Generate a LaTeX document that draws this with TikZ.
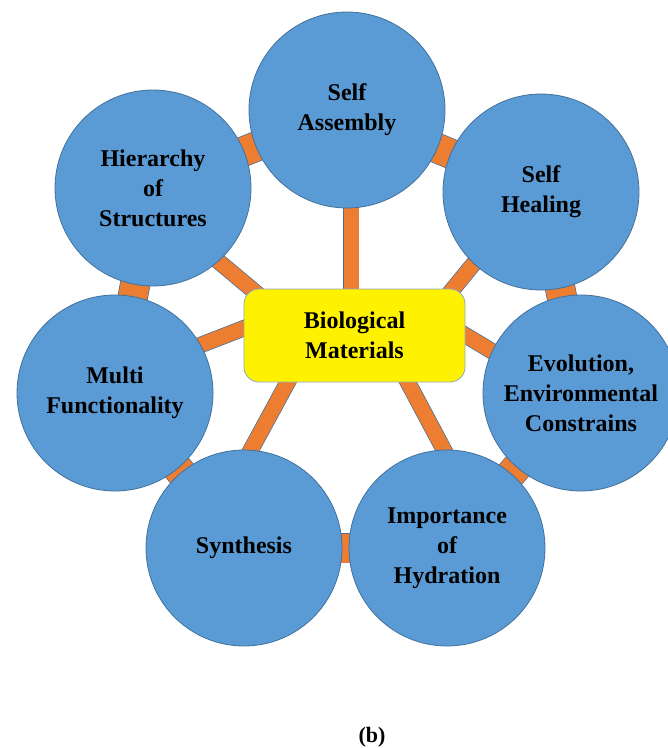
\documentclass[tikz,border=0pt]{standalone}
\usepackage{fontspec}
\setmainfont{Liberation Serif}
\definecolor{topicfill}{HTML}{5B9BD5}
\definecolor{topicedge}{HTML}{41719C}
\definecolor{linkfill}{HTML}{ED7D31}
\definecolor{hubedge}{HTML}{8EA9C1}
\begin{document}
\begin{tikzpicture}[x=1pt,y=-1pt,
  topic/.style={circle, draw=topicedge, line width=0.8pt, fill=topicfill,
    minimum size=196pt, inner sep=0pt, align=center,
    font=\bfseries\fontsize{24}{30}\selectfont},
  hub/.style={rectangle, rounded corners=15pt, draw=hubedge, line width=0.8pt,
    fill=yellow, minimum width=221pt, minimum height=93pt, align=center,
    font=\bfseries\fontsize{24}{30}\selectfont},
  ringbar/.style={draw=topicedge, line width=0.7pt, double=linkfill, double distance=29pt},
  spokebar/.style={draw=topicedge, line width=0.7pt, double=linkfill, double distance=15pt},
  caption/.style={font=\bfseries\fontsize{22}{26}\selectfont}]
\useasboundingbox (0,0) rectangle (668,748);

% circle centres
\coordinate (cSA) at (347,110);
\coordinate (cSH) at (541,192);
\coordinate (cEV) at (581,393);
\coordinate (cIH) at (447,548);
\coordinate (cSY) at (244,548);
\coordinate (cMF) at (115,393);
\coordinate (cHS) at (153,188);

% outer ring of links between neighbouring topics
\draw[ringbar] (cSA) -- (cSH);
\draw[ringbar] (cSH) -- (cEV);
\draw[ringbar] (cEV) -- (cIH);
\draw[ringbar] (cIH) -- (cSY);
\draw[ringbar] (cSY) -- (cMF);
\draw[ringbar] (cMF) -- (cHS);
\draw[ringbar] (cHS) -- (cSA);

% spoke end points (hub side / topic side)
\coordinate (hSA) at (351,320); \coordinate (tSA) at (351,150);
\coordinate (hSH) at (439,306); \coordinate (tSH) at (494,239);
\coordinate (hEV) at (445,323); \coordinate (tEV) at (515,365);
\coordinate (hIH) at (396,360); \coordinate (tIH) at (460,480);
\coordinate (hSY) at (297,365); \coordinate (tSY) at (240,470);
\coordinate (hMF) at (265,320); \coordinate (tMF) at (180,353);
\coordinate (hHS) at (273,307); \coordinate (tHS) at (187,235);

\foreach \k in {SA,SH,EV,IH,SY,MF,HS}
  \draw[spokebar] (h\k) -- (t\k);

% topics
\node[topic] (SA) at (cSA) {Self\\Assembly};
\node[topic] (SH) at (cSH) {Self\\Healing};
\node[topic] (EV) at (cEV) {Evolution,\\Environmental\\Constrains};
\node[topic] (IH) at (cIH) {Importance\\of\\Hydration};
\node[topic] (SY) at (cSY) {Synthesis};
\node[topic] (MF) at (cMF) {Multi\\Functionality};
\node[topic] (HS) at (cHS) {Hierarchy\\of\\Structures};

% central hub
\node[hub] (hub) at (354.5,335.5) {Biological\\Materials};

% caption
\node[caption] (cap) at (372,737) {(b)};
\end{tikzpicture}
\end{document}
